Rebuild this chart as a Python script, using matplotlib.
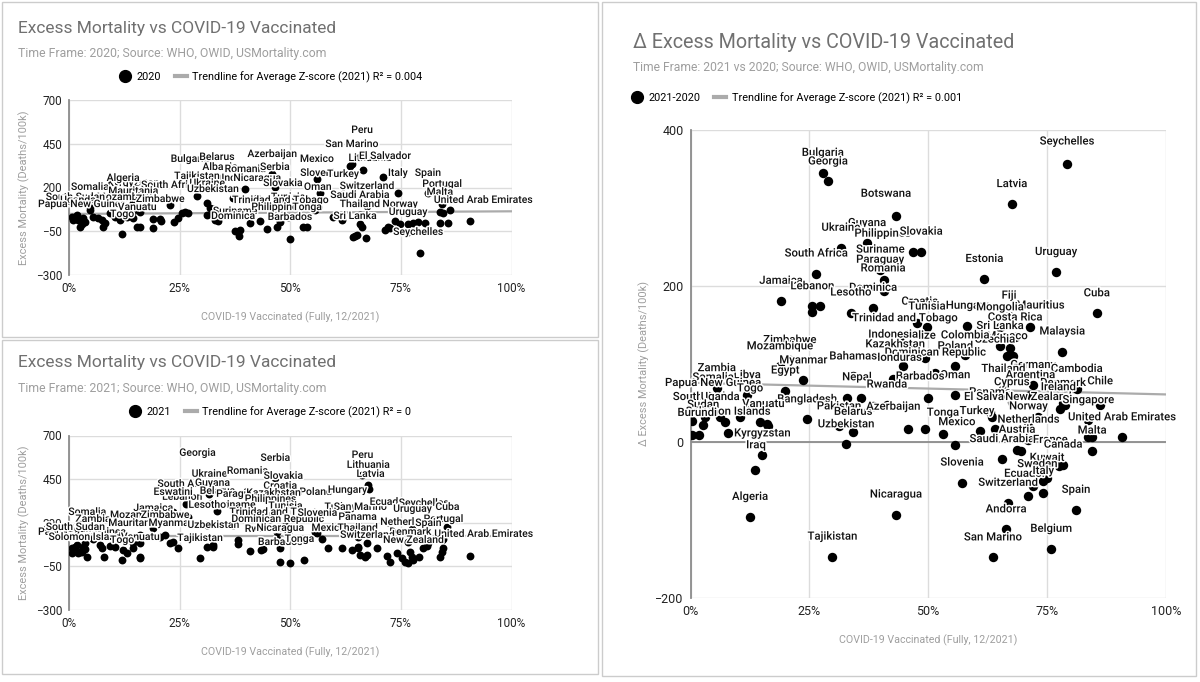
import matplotlib
matplotlib.use('Agg')
import matplotlib.pyplot as plt
import matplotlib.patheffects as pe
from matplotlib.patches import Rectangle
from matplotlib.lines import Line2D

W, H = 1200, 682
plt.rcParams['font.family'] = ['Roboto', 'DejaVu Sans']

# ---------------- data ----------------
# 2020 panel
names_2020 = ['Peru', 'San Marino', 'Lithuania', 'El Salvador', 'Bulgaria', 'Belarus', 'Azerbaijan',
              'Mexico', 'Albania', 'Romania', 'Serbia', 'Italy', 'Spain', 'Tajikistan', 'India',
              'Nicaragua', 'Slovenia', 'Turkey', 'Kyrgyzstan', 'Algeria', 'South Africa', 'Ukraine',
              'Slovakia', 'Oman', 'Switzerland', 'Portugal', 'Somalia', 'Mauritania', 'Uzbekistan',
              'Tunisia', 'Saudi Arabia', 'Malta', 'Zambia', 'Mozambique', 'Zimbabwe', 'South Sudan',
              'Uganda', 'Papua New Guinea', 'Trinidad and Tobago', 'United Arab Emirates', 'Thailand',
              'Norway', 'Vanuatu', 'Togo', 'Suriname', 'Philippines', 'Tonga', 'Dominica', 'Barbados',
              'Sri Lanka', 'Uruguay', 'Seychelles']
vacc_2020 = [63.5, 63.9, 66.4, 70.9, 27.3, 33.4, 45.9, 56.0, 34.1, 39.8, 46.5, 74.3, 81.1, 28.9, 37.0,
             42.5, 56.7, 61.9, 14.5, 12.2, 22.8, 31.2, 48.3, 56.2, 67.3, 84.3, 4.7, 14.5, 32.5,
             49.5, 65.7, 83.8, 5.4, 13.1, 20.6, 1.4, 2.0, 2.9, 47.7, 90.6, 65.7,
             74.8, 15.4, 12.0, 37.5, 47.0, 53.8, 38.4, 49.9, 64.6, 76.6, 79.3]
excess_2020 = [323, 334, 300, 260, 249, 260, 277, 249, 203, 191, 203, 169, 169, 151, 140,
               140, 169, 163, 111, 140, 100, 111, 111, 89, 94, 106, 89, 66, 77,
               31, 43, 60, 31, 31, 20, 31, 14, -9, 14, 9, -9,
               -9, -26, -66, -49, -26, -26, -77, -94, -77, -54, -174]
other_vacc_2020 = [0.7, 1.8, 2.5, 3.2, 3.6, 2.5, 0.9, 4.7, 6.6, 7.5, 7.7, 8.1, 9.3, 10.4, 11.5, 14.5,
                   16.0, 16.0, 19.0, 19.0, 20.8, 23.7, 24.6, 25.5, 26.2, 26.9, 31.2, 31.9, 32.5, 33.0,
                   33.7, 38.2, 38.6, 40.9, 43.1, 44.7, 47.7, 52.9, 55.6, 59.6, 61.7, 64.2, 65.1, 67.1,
                   66.2, 71.4, 72.1, 72.5, 73.6, 76.6, 77.7, 78.8, 80.4, 83.8, 84.5, 85.6, 86.1]
other_excess_2020 = [31, 43, 14, 26, 3, -26, 14, 71, 26, 14, -26, -3, 54, 31, 14, 26,
                     60, -26, 20, -31, 9, 3, 26, 54, 60, 54, 43, 83, 54, 14,
                     9, -54, -43, -3, 9, -37, 3, -26, 71, 31, 14, -83, -71, -89,
                     -26, -43, -26, -31, 9, -9, -3, 3, -3, -3, 54, -3, 71]
trend_2020 = [49, 64]          # trendline value at 0% and 100%

# 2021 panel
names_2021 = ['Georgia', 'Serbia', 'Peru', 'Lithuania', 'Latvia', 'Ukraine', 'Romania', 'Slovakia',
              'South Africa', 'Lebanon', 'Guyana', 'Croatia', 'Poland', 'Hungary', 'Eswatini', 'Belarus',
              'Paraguay', 'Kazakhstan', 'Philippines', 'Tunisia', 'Suriname', 'Lesotho', 'Turkey',
              'San Marino', 'Ecuador', 'Seychelles', 'Cuba', 'Uruguay', 'Trinidad and Tobago', 'Somalia',
              'Jamaica', 'Mozambique', 'Zimbabwe', 'Zambia', 'Mauritania', 'Myanmar', 'Uzbekistan',
              'Dominican Republic', 'Slovenia', 'Panama', 'Netherlands', 'Portugal', 'Spain',
              'Papua New Guinea', 'Uganda', 'South Sudan', 'Rwanda', 'Nicaragua', 'Mexico', 'Thailand',
              'Denmark', 'United Arab Emirates', 'Solomon Islands', 'Vanuatu', 'Togo', 'Tajikistan',
              'Barbados', 'Tonga', 'Switzerland', 'New Zealand']
vacc_2021 = [29.0, 46.6, 66.3, 67.6, 67.9, 31.7, 40.3, 48.4, 26.5, 26.9, 32.4, 47.7, 55.7, 62.9, 23.5,
             33.5, 38.2, 46.2, 45.5, 48.9, 37.1, 31.2, 61.3, 65.8, 72.2, 80.1, 85.5, 77.6, 47.1, 4.1,
             19.0, 16.1, 21.7, 5.4, 14.5, 22.9, 32.6, 47.1, 56.1, 65.2, 76.7, 84.6, 81.2,
             2.9, 3.6, 1.4, 43.9, 47.7, 58.6, 65.2, 77.1, 90.7, 4.1, 16.1, 12.0, 29.6,
             47.7, 53.2, 67.4, 77.8]
excess_2021 = [486, 457, 474, 417, 394, 366, 383, 354, 308, 234, 314, 297, 262, 274, 262, 268,
               251, 257, 222, 182, 188, 188, 176, 176, 205, 199, 176, 165, 147, 147,
               170, 130, 130, 107, 84, 84, 73, 107, 142, 119, 90, 107, 84,
               33, 50, 61, 50, 56, 56, 56, 33, 10, 4, 4, -13, -2,
               -25, -13, 16, -13]
other_vacc_2021 = [0.7, 1.8, 2.5, 3.2, 0.7, 2.0, 3.6, 7.0, 7.5, 7.9, 9.3, 10.4, 12.2, 13.1, 14.5, 16.1,
                   16.1, 20.6, 23.5, 24.7, 31.2, 32.6, 38.2, 38.2, 41.0, 43.4, 49.3, 49.5, 50.0, 55.7,
                   57.2, 61.8, 64.0, 65.4, 65.8, 67.0, 67.4, 69.7, 71.9, 72.6, 74.2, 75.3, 76.0, 76.7,
                   77.6, 79.0, 79.9, 81.0, 83.9, 84.4, 84.6, 84.4]
other_excess_2021 = [56, 73, 33, 61, 27, 27, 84, 73, 56, 4, 67, 61, 44, 27, 56, 84,
                     -2, 119, 90, 56, 61, 61, 102, 79, 38, 44, 176, 147, -30, 147,
                     107, 56, 44, 61, 16, 4, 84, 56, 10, -25, 27, -2, -25, -30,
                     4, 4, 56, 67, 4, 33, 56, 102]
trend_2021 = [125, 125]

# 2021 vs 2020 panel
names_delta = ['Seychelles', 'Latvia', 'Estonia', 'Uruguay', 'Cuba', 'Malaysia', 'Bulgaria', 'Georgia',
               'Botswana', 'Guyana', 'Ukraine', 'South Africa', 'Jamaica', 'Philippines', 'Slovakia',
               'Suriname', 'Paraguay', 'Romania', 'Dominica', 'Lebanon', 'Lesotho', 'Trinidad and Tobago',
               'Croatia', 'Tunisia', 'Fiji', 'Mauritius', 'Hungary', 'Mongolia', 'Costa Rica', 'Sri Lanka',
               'Monaco', 'Czechia', 'Colombia', 'Belize', 'Indonesia', 'Kazakhstan', 'Poland',
               'Dominican Republic', 'Honduras', 'Bahamas', 'Germany', 'Cambodia', 'Thailand', 'Argentina',
               'Oman', 'Barbados', 'Cyprus', 'Denmark', 'Chile', 'Ireland', 'Panama', 'Nepal', 'Libya',
               'Rwanda', 'Bangladesh', 'Pakistan', 'Belarus', 'Uzbekistan', 'Azerbaijan', 'El Salvador',
               'New Zealand', 'Singapore', 'Tonga', 'Turkey', 'Norway', 'Netherlands',
               'United Arab Emirates', 'Mexico', 'Austria', 'Saudi Arabia', 'France', 'Canada', 'Malta',
               'Kuwait', 'Sweden', 'Slovenia', 'Switzerland', 'Ecuador', 'Italy', 'Spain', 'Andorra',
               'San Marino', 'Belgium', 'Nicaragua', 'Algeria', 'Tajikistan', 'Iraq', 'Kyrgyzstan',
               'Zambia', 'Somalia', 'Papua New Guinea', 'Togo', 'South Sudan', 'Uganda', 'Sudan',
               'Vanuatu', 'Solomon Islands', 'Burundi', 'Zimbabwe', 'Mozambique', 'Myanmar', 'Egypt']
vacc_delta = [79.2, 67.6, 61.8, 76.9, 85.5, 78.2, 27.8, 28.9, 43.2, 37.1, 31.6, 26.4, 19.0, 46.7, 48.5,
              39.9, 40.7, 40.7, 38.4, 25.6, 33.7, 45.1, 47.6, 49.7, 67.0, 71.5, 58.2, 65.1, 68.3, 65.1,
              66.6, 67.2, 57.8, 49.4, 42.6, 44.7, 55.7, 51.5, 42.6, 34.2, 72.1, 81.3, 65.8, 71.5,
              55.7, 50.0, 67.6, 78.4, 86.2, 77.8, 63.0, 32.9, 11.9, 41.3, 24.5, 31.2, 34.2, 32.7, 45.8,
              63.5, 73.2, 83.7, 49.3, 60.9, 71.1, 71.1, 90.8, 53.1, 68.7, 65.5, 75.7, 78.4, 84.5,
              75.0, 77.6, 57.1, 66.8, 71.0, 74.2, 81.1, 66.4, 63.6, 75.9, 43.2, 12.5, 29.8, 15.0, 7.9,
              5.5, 4.7, 4.7, 12.5, 3.0, 6.2, 2.6, 16.1, 7.2, 0.3, 20.9, 18.8, 23.7, 19.9]
excess_delta = [357, 305, 209, 218, 165, 116, 345, 334, 290, 255, 249, 216, 181, 244, 244,
                221, 208, 193, 172, 174, 166, 133, 153, 148, 162, 148, 149, 147, 134, 123,
                110, 121, 111, 108, 112, 97, 97, 89, 81, 84, 73, 68, 68, 60,
                60, 57, 51, 50, 47, 42, 38, 56, 60, 48, 29, 20, 13, -3, 17,
                32, 32, 28, 17, 14, 20, 3, 6, 10, -10, -22, -23, -29, -11,
                -46, -31, -52, -78, -69, -50, -87, -112, -148, -137, -93, -96, -147, -17, 11,
                69, 57, 50, 43, 32, 32, 22, 23, 26, 27, 105, 97, 79, 66]
other_vacc_delta = [27.3, 25.6, 35.9, 38.4, 13.5, 14.6, 16.3, 0.3, 1.8, 10.4, 67.9, 64.1, 55.7, 69.6,
                    83.7, 84.5, 78.8, 72.1, 74.1]
other_excess_delta = [174, 167, 56, 46, -36, 26, 20, 9, 9, 32, 110, 17, -4, -11,
                      6, 6, 47, -56, -65]
trend_delta = [76, 61]

# label placement (pixels from the dot to the label centre); default is straight above
offsets_2020 = {'Peru': (12, 36), 'Lithuania': (7, 12), 'El Salvador': (2, 21),
                'United Arab Emirates': (13, 21), 'Dominica': (-6, 20), 'Barbados': (0, 22),
                'Seychelles': (-2, 21)}
offsets_2021 = {'Latvia': (1, 15), 'Lebanon': (-6, 20), 'United Arab Emirates': (13, 22),
                'Tonga': (-5, 21)}
offsets_delta = {'Seychelles': (0, 22), 'Botswana': (-10, 22), 'Philippines': (-30, 18),
                 'Paraguay': (-4, 20), 'Romania': (-1, 23), 'Croatia': (3, 21), 'Mauritius': (10, 21),
                 'Czechia': (-15, 8), 'Belize': (-5, 22), 'Kazakhstan': (-8, 22), 'Honduras': (4, 21),
                 'Barbados': (-8, 21), 'Chile': (0, 24), 'Ireland': (-2, 22), 'Nepal': (10, 21),
                 'Azerbaijan': (-15, 22), 'Tonga': (18, 16), 'Turkey': (-3, 20), 'Mexico': (14, 12),
                 'Sweden': (-22, 2), 'Ecuador': (-3, 22), 'Italy': (0, 10), 'Iraq': (-6, 10),
                 'Kyrgyzstan': (34, 0), 'Vanuatu': (-4, 20), 'Solomon Islands': (3, 10),
                 'Burundi': (5, 8)}


def box(l, t, r, b):
    return [l / W, 1 - b / H, (r - l) / W, (b - t) / H]


def draw_panel(ax, names, xs, ys, ox, oy, offsets, trend, yticks, lab_size, dot_size, tick_size):
    ax.set_xlim(0, 100)
    ax.set_ylim(yticks[0], yticks[-1])
    ax.set_xticks([0, 25, 50, 75, 100])
    ax.set_xticklabels(['0%', '25%', '50%', '75%', '100%'])
    ax.set_yticks(yticks)
    ax.grid(True, color='#dcdcdc', lw=1, zorder=0)
    ax.set_axisbelow(True)
    for s in ['top', 'right', 'bottom']:
        ax.spines[s].set_visible(False)
    ax.spines['left'].set_color('#8c8c8c')
    ax.spines['left'].set_linewidth(1.3)
    ax.tick_params(length=0, labelsize=tick_size, colors='#222222', pad=5)
    ax.plot([0, 100], trend, color='#ababab', lw=1.6, zorder=2)
    ax.scatter(ox, oy, s=dot_size, color='black', lw=0, zorder=3)
    ax.scatter(xs, ys, s=dot_size, color='black', lw=0, zorder=3)
    for n, x, y in zip(names, xs, ys):
        dx, dy = offsets.get(n, (0, 20))
        ax.annotate(n, (x, y), xytext=(dx, dy), textcoords='offset pixels', ha='center',
                    va='center', fontsize=lab_size, color='#111111', fontweight='medium', zorder=4,
                    annotation_clip=False,
                    path_effects=[pe.withStroke(linewidth=2.2, foreground='white')])


fig = plt.figure(figsize=(W / 100, H / 100), dpi=100)
fig.patch.set_facecolor('white')

for l, t, r, b in [(2, 2, 598, 337), (2, 340, 598, 674), (602, 2, 1196, 676)]:
    fig.add_artist(Rectangle((l / W, 1 - b / H), (r - l) / W, (b - t) / H, transform=fig.transFigure,
                             fill=False, edgecolor='#cccccc', lw=1))

ax1 = fig.add_axes(box(69, 100, 511.5, 275))
draw_panel(ax1, names_2020, vacc_2020, excess_2020, other_vacc_2020, other_excess_2020, offsets_2020,
           trend_2020, [-300, -50, 200, 450, 700], 7.5, 32, 8.5)
ax2 = fig.add_axes(box(69, 435.5, 511.5, 610))
draw_panel(ax2, names_2021, vacc_2021, excess_2021, other_vacc_2021, other_excess_2021, offsets_2021,
           trend_2021, [-300, -50, 200, 450, 700], 7.5, 32, 8.5)
ax3 = fig.add_axes(box(690.7, 130, 1165.7, 598))
draw_panel(ax3, names_delta, vacc_delta, excess_delta, other_vacc_delta, other_excess_delta,
           offsets_delta, trend_delta, [-200, 0, 200, 400], 8.2, 46, 9)
ax3.axhline(0, color='#8c8c8c', lw=1.3, zorder=1)

for ax, ylab in [(ax1, 'Excess Mortality (Deaths/100k)'), (ax2, 'Excess Mortality (Deaths/100k)'),
                 (ax3, 'Δ Excess Mortality (Deaths/100k)')]:
    ax.set_xlabel('COVID-19 Vaccinated (Fully, 12/2021)', color='#9e9e9e', fontsize=7.7, labelpad=12)
    ax.set_ylabel(ylab, color='#9e9e9e', fontsize=7.9, labelpad=4)

# titles / subtitles
title_c, sub_c = '#707070', '#9e9e9e'
fig.text(18 / W, 1 - 28 / H, 'Excess Mortality vs COVID-19 Vaccinated', fontsize=12.5, color=title_c, va='center')
fig.text(18 / W, 1 - 53 / H, 'Time Frame: 2020; Source: WHO, OWID, USMortality.com', fontsize=8.8, color=sub_c, va='center')
fig.text(18 / W, 1 - 363 / H, 'Excess Mortality vs COVID-19 Vaccinated', fontsize=12.5, color=title_c, va='center')
fig.text(18 / W, 1 - 388 / H, 'Time Frame: 2021; Source: WHO, OWID, USMortality.com', fontsize=8.8, color=sub_c, va='center')
fig.text(633 / W, 1 - 42 / H, 'Δ Excess Mortality vs COVID-19 Vaccinated', fontsize=14.2, color=title_c, va='center')
fig.text(633 / W, 1 - 68 / H, 'Time Frame: 2021 vs 2020; Source: WHO, OWID, USMortality.com', fontsize=8.7, color=sub_c, va='center')


def legend(series, trend_txt, x, y):
    h = [Line2D([], [], marker='o', ls='', color='black', markersize=8.5),
         Line2D([], [], color='#ababab', lw=3)]
    fig.legend(h, [series, trend_txt], loc='center left', bbox_to_anchor=(x / W, 1 - y / H), ncol=2,
               frameon=False, fontsize=7.8, handlelength=1.1, handletextpad=0.5, columnspacing=1.3,
               borderaxespad=0, borderpad=0)


legend('2020', 'Trendline for Average Z-score (2021) R² = 0.004', 119, 77)
legend('2021', 'Trendline for Average Z-score (2021) R² = 0', 129, 412)
legend('2021-2020', 'Trendline for Average Z-score (2021) R² = 0.001', 631, 98)

fig.savefig('out.png', dpi=100)
